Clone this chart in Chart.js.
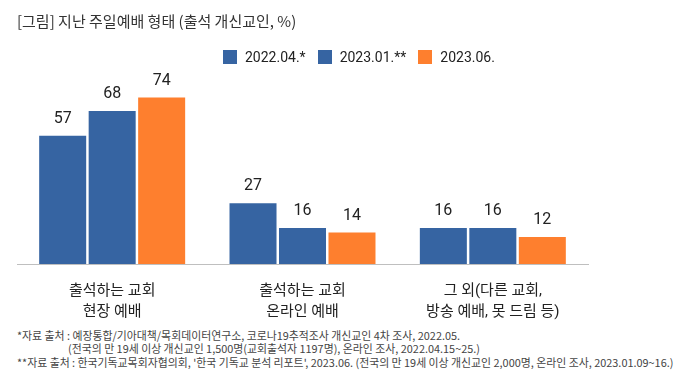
<!DOCTYPE html>
<html>
<head>
<meta charset="utf-8">
<script src="https://cdn.jsdelivr.net/npm/chart.js@4/dist/chart.umd.min.js"></script>
<style>
  body { margin: 0; background: #fff; font-family: Roboto, "Noto Sans CJK KR", sans-serif; }
  #wrap { position: relative; width: 696px; height: 390px; overflow: hidden; }
  #chart { position: absolute; left: 0; top: 0; }
  #title { position: absolute; left: 17px; top: 10px; font-size: 15px; color: #333; font-family: "Noto Sans CJK KR", sans-serif; }
  #legend { position: absolute; left: 223px; top: 49px; display: flex; align-items: center; font-size: 14px; color: #222; }
  #legend .box { width: 14px; height: 14px; margin-right: 8px; }
  #legend .txt { margin-right: 12px; }
  .note { position: absolute; left: 17px; font-size: 11px; color: #444; white-space: nowrap; transform-origin: left center; font-family: "Noto Sans CJK KR", sans-serif; }
</style>
</head>
<body>
<div id="wrap">
  <canvas id="chart" width="696" height="320"></canvas>
  <div id="title">[그림] 지난 주일예배 형태 (출석 개신교인, %)</div>
  <div id="legend"></div>
  <div class="note" id="n1" style="top:327px">*자료 출처 : 예장통합/기아대책/목회데이터연구소, 코로나19추적조사 개신교인 4차 조사, 2022.05.</div>
  <div class="note" id="n2" style="top:340px; left:68px">(전국의 만 19세 이상 개신교인 1,500명(교회출석자 1197명), 온라인 조사, 2022.04.15~25.)</div>
  <div class="note" id="n3" style="top:354px">**자료 출처 : 한국기독교목회자협의회, '한국 기독교 분석 리포트', 2023.06. (전국의 만 19세 이상 개신교인 2,000명, 온라인 조사, 2023.01.09~16.)</div>
</div>
<script>
const categories = [
  ["출석하는 교회", "현장 예배"],
  ["출석하는 교회", "온라인 예배"],
  ["그 외(다른 교회,", "방송 예배, 못 드림 등)"],
];
const seriesNames = ["2022.04.*", "2023.01.**", "2023.06."];
const seriesColors = ["#3664a2", "#3664a2", "#fe7f2e"];
const values2022 = [57, 27, 16];
const values2023a = [68, 16, 16];
const values2023b = [74, 14, 12];
const allValues = [values2022, values2023a, values2023b];

// html legend
const legend = document.querySelector("#legend");
seriesNames.forEach((name, i) => {
  legend.insertAdjacentHTML("beforeend",
    `<div class="box" style="background:${seriesColors[i]}"></div><div class="txt">${name}</div>`);
});

// squeeze footnotes like the condensed font in the picture
const n3 = document.querySelector("#n3");
const scale = 656 / n3.scrollWidth;
document.querySelectorAll(".note").forEach((el) => {
  el.style.transform = `scaleX(${scale})`;
});

const valueLabels = {
  id: "valueLabels",
  afterDatasetsDraw(chart) {
    const ctx = chart.ctx;
    ctx.save();
    ctx.font = "16px Roboto, 'Noto Sans CJK KR'";
    ctx.fillStyle = "#222";
    ctx.textAlign = "center";
    ctx.textBaseline = "middle";
    chart.data.datasets.forEach((ds, i) => {
      chart.getDatasetMeta(i).data.forEach((bar, j) => {
        ctx.fillText(ds.data[j], bar.x, bar.y - 17);
      });
    });
    ctx.restore();
  },
};

const canvas = document.querySelector("#chart");
const myChart = new Chart(canvas, {
  type: "bar",
  data: {
    labels: categories,
    datasets: allValues.map((vals, i) => ({
      label: seriesNames[i],
      data: vals,
      backgroundColor: seriesColors[i],
      categoryPercentage: 0.78,
      barPercentage: 0.95,
    })),
  },
  options: {
    responsive: false,
    animation: false,
    layout: {
      padding: { top: 84, left: 17, right: 108, bottom: 0 },
    },
    scales: {
      y: {
        display: false,
        min: 0,
        max: 80,
      },
      x: {
        grid: { display: false },
        border: { display: true, color: "#bfbfbf", width: 1 },
        ticks: {
          padding: 8,
          color: "#222",
          font: { size: 15, family: "Roboto, 'Noto Sans CJK KR'", lineHeight: 1.45 },
        },
        afterFit: (s) => {
          s.height = 56;
        },
      },
    },
    plugins: {
      legend: { display: false },
      tooltip: { enabled: false },
    },
  },
  plugins: [valueLabels],
});
</script>
</body>
</html>
